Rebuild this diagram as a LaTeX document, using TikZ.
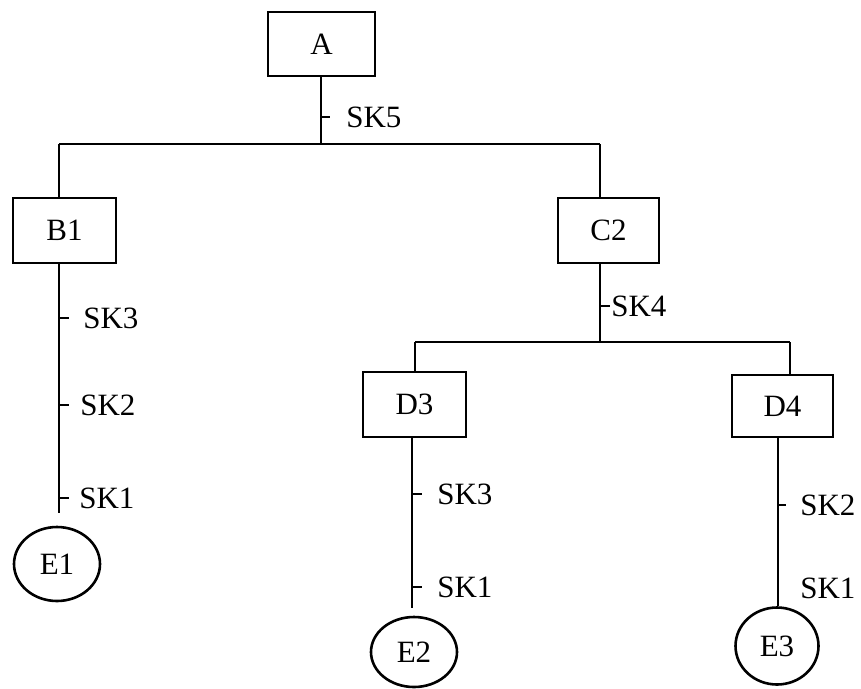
\documentclass[tikz,border=0pt]{standalone}
\usepackage{fontspec}
\setmainfont{Liberation Serif}
\usetikzlibrary{shapes.geometric,calc}
\begin{document}
\begin{tikzpicture}[x=1pt,y=-1pt,
  line width=2.6pt,
  every node/.style={font=\fontsize{31}{36}\selectfont},
  boxnode/.style={draw,rectangle,inner sep=0,minimum width=#1},
  endnode/.style={draw,ellipse,inner sep=0},
  lbl/.style={anchor=west,inner sep=0}]
\useasboundingbox (0,0) rectangle (861,688);
% nodes
\node[boxnode=107,minimum height=64] (A) at (321.5,44) {A};
\node[boxnode=103,minimum height=65] (B1) at (64.5,230.5) {B1};
\node[boxnode=101,minimum height=65] (C2) at (608.5,230.5) {C2};
\node[boxnode=103,minimum height=65] (D3) at (414.5,404.5) {D3};
\node[boxnode=101,minimum height=62] (D4) at (782.5,406) {D4};
\node[endnode,minimum width=86,minimum height=74] (E1) at (57,564) {E1};
\node[endnode,minimum width=86,minimum height=70] (E2) at (414,652) {E2};
\node[endnode,minimum width=83,minimum height=77] (E3) at (777,646) {E3};
% junction coordinates
\coordinate (jA) at (321,144);
\coordinate (jL) at (59,144);
\coordinate (jR) at (600,144);
\coordinate (kC) at (600,342);
\coordinate (kL) at (415,342);
\coordinate (kR) at (790,342);
\coordinate (eB) at (59,513);
\coordinate (eD3) at (412,608);
\coordinate (xD4) at (778,0);
% connectors
\draw (A.south -| jA) -- (jA);
\draw (jL) -- (jR);
\draw (jL) -- (B1.north -| jL);
\draw (jR) -- (C2.north -| jR);
\draw (B1.south -| eB) -- (eB);
\draw (C2.south -| kC) -- (kC);
\draw (kL) -- (kR);
\draw (kL) -- (D3.north -| kL);
\draw (kR) -- (D4.north -| kR);
\draw (D3.south -| eD3) -- (eD3);
\draw (D4.south -| xD4) -- (E3.north -| xD4);
% ticks and labels
\draw (321,117) -- (330,117);
\node[lbl] (l5) at (345,117) {SK5};
\draw (59,318) -- (69,318);
\node[lbl] (l3a) at (82,318) {SK3};
\draw (59,405) -- (69,405);
\node[lbl] (l2a) at (79,405) {SK2};
\draw (59,498) -- (69,498);
\node[lbl] (l1a) at (78,498) {SK1};
\draw (600,306) -- (610,306);
\node[lbl] (l4) at (610,306) {SK4};
\draw (412,494) -- (422,494);
\node[lbl] (l3b) at (436,494) {SK3};
\draw (412,587) -- (422,587);
\node[lbl] (l1b) at (436,587) {SK1};
\draw (778,505) -- (786,505);
\node[lbl] (l2c) at (799,505) {SK2};
\node[lbl] (l1c) at (799,588) {SK1};
\end{tikzpicture}
\end{document}
